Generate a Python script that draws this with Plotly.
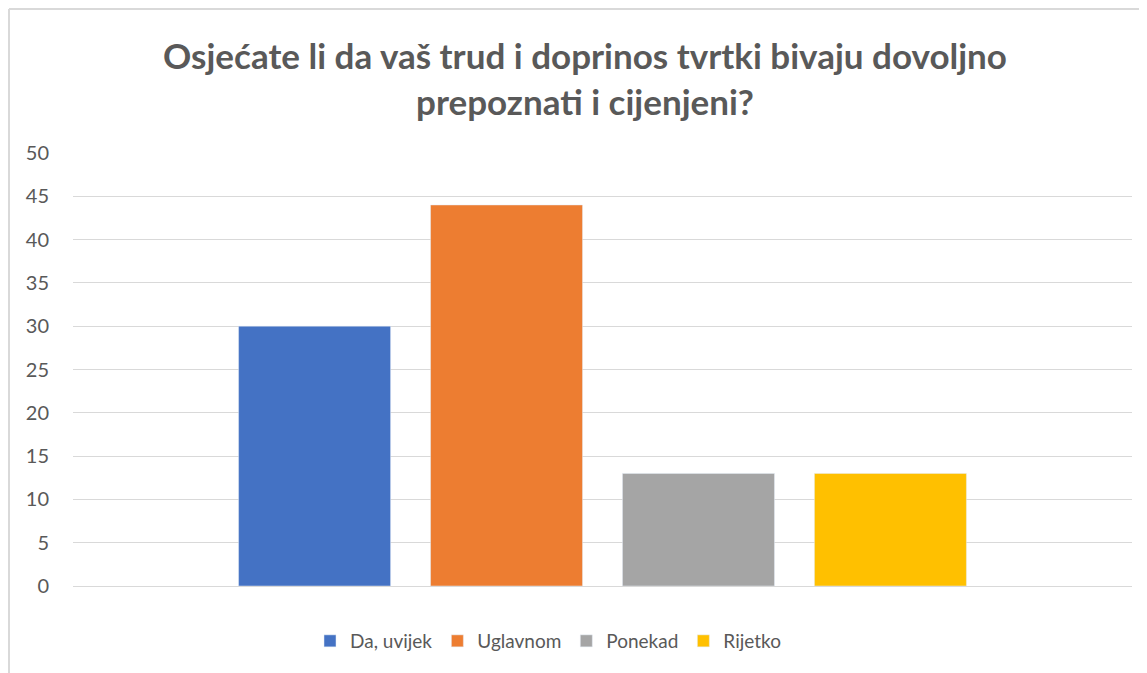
import plotly.graph_objects as go

# Survey answers (single question, one bar per answer)
answers = ["Da, uvijek", "Uglavnom", "Ponekad", "Rijetko"]
counts = [30, 44, 13, 13]
colors = ["#4472C4", "#ED7D31", "#A5A5A5", "#FFC000"]
category = ["Odgovor"]

title_text = "Osjećate li da vaš trud i doprinos tvrtki bivaju dovoljno<br>prepoznati i cijenjeni?"

W, H = 1139, 665   # page body has an 8px margin
L, R, T, B = 65, 15, 145, 87
PW, PH = W - L - R, H - T - B

fig = go.Figure()
for name, val, col in zip(answers, counts, colors):
    fig.add_trace(go.Bar(name=name, x=category, y=[val], marker_color=col))

fig.update_layout(
    width=W,
    height=H,
    barmode="group",
    bargap=0.275,
    bargroupgap=0.208,
    paper_bgcolor="white",
    plot_bgcolor="white",
    margin=dict(l=L, r=R, t=T, b=B),
    font=dict(family="Lato", color="#595959", size=19),
    title=dict(
        text=title_text,
        x=(577 - L) / PW,
        xref="paper",
        xanchor="center",
        y=1 - 61 / H,
        yanchor="middle",
        font=dict(family="Lato", size=35, color="#595959", weight="bold"),
    ),
    legend=dict(
        orientation="h",
        x=(540 - L) / PW,
        xanchor="center",
        y=(T + PH - 633) / PH,
        yanchor="middle",
        font=dict(size=19, color="#595959"),
    ),
    showlegend=True,
)

fig.update_xaxes(showticklabels=False, showgrid=False, zeroline=False, showline=False)
fig.update_yaxes(
    range=[0, 50],
    dtick=5,
    showgrid=True,
    gridcolor="#D9D9D9",
    gridwidth=1,
    zeroline=True,
    zerolinecolor="#D9D9D9",
    zerolinewidth=1,
    showline=False,
    ticks="",
    ticklabelstandoff=23,
    tickfont=dict(size=20, color="#595959"),
)

# chart-area border (left and top edges visible in the reference)
bx = (1 - L) / PW
by = (T + PH - 1) / PH
fig.add_shape(type="line", xref="paper", yref="paper", x0=bx, x1=bx, y0=-0.3, y1=by,
              line=dict(color="#D9D9D9", width=2))
fig.add_shape(type="line", xref="paper", yref="paper", x0=bx, x1=1.1, y0=by, y1=by,
              line=dict(color="#D9D9D9", width=2))

fig.write_html("out.html")
